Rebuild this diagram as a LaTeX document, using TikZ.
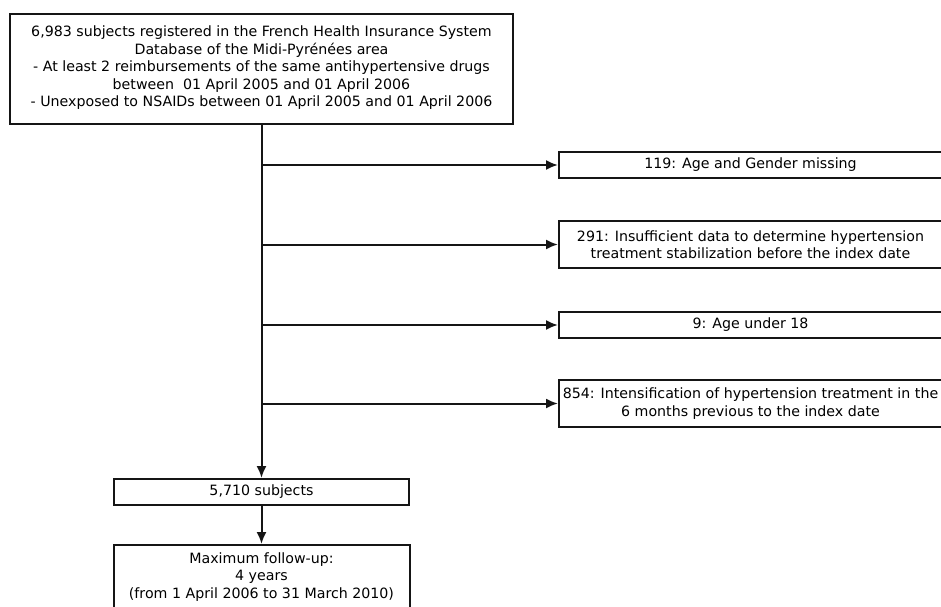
\documentclass[tikz,border=0pt]{standalone}
\usepackage{fontspec}
\setmainfont{DejaVu Sans}
\usepackage{xcolor}
\usetikzlibrary{positioning,arrows.meta}
\definecolor{ink}{HTML}{151515}

\begin{document}
\begin{tikzpicture}[font=\fontsize{14.2}{17.5}\selectfont,
  box/.style={draw=ink,line width=2pt,align=center,inner sep=1pt,fill=white},
  excl/.style={box,minimum width=383pt},
  arr/.style={-{Latex[length=12pt,width=10pt]},line width=2pt,draw=ink}]
  \useasboundingbox[fill=white] (0,0) rectangle (941pt,-606pt);
  \node[box,minimum width=503pt,minimum height=110pt] (src) at (261.5pt,-69pt)
    {6,983 subjects registered in the French Health Insurance System\\
     Database of the Midi-Pyrénées area\\
     - At least 2 reimbursements of the same antihypertensive drugs\\
     between\ \ 01 April 2005 and 01 April 2006\\
     - Unexposed to NSAIDs between 01 April 2005 and 01 April 2006\\[-12pt]\mbox{}};
  \node[excl,minimum height=26pt,below right=26pt and 44pt of src.south east] (ex1)
    {119: Age and Gender missing};
  \node[excl,minimum height=47pt,below=41pt of ex1] (ex2)
    {291: Insufficient data to determine hypertension\\treatment stabilization before the index date};
  \node[excl,minimum height=26pt,below=42pt of ex2] (ex3) {9: Age under 18};
  \node[excl,minimum height=47pt,below=40pt of ex3] (ex4)
    {854: Intensification of hypertension treatment in the\\6 months previous to the index date};
  \node[box,minimum width=295pt,minimum height=26pt,below=353pt of src] (total) {5,710 subjects};
  \node[box,minimum width=296pt,minimum height=80pt,below=38pt of total,anchor=north] (follow)
    {Maximum follow-up:\\4 years\\(from 1 April 2006 to 31 March 2010)\\[2pt]};
  \draw[arr] (total.north |- src.south) -- (total.north);
  \foreach \e in {ex1,ex2,ex3,ex4}
    \draw[arr] (\e.west -| total.north) -- (\e.west);
  \draw[arr] (total) -- (follow);
\end{tikzpicture}
\end{document}
